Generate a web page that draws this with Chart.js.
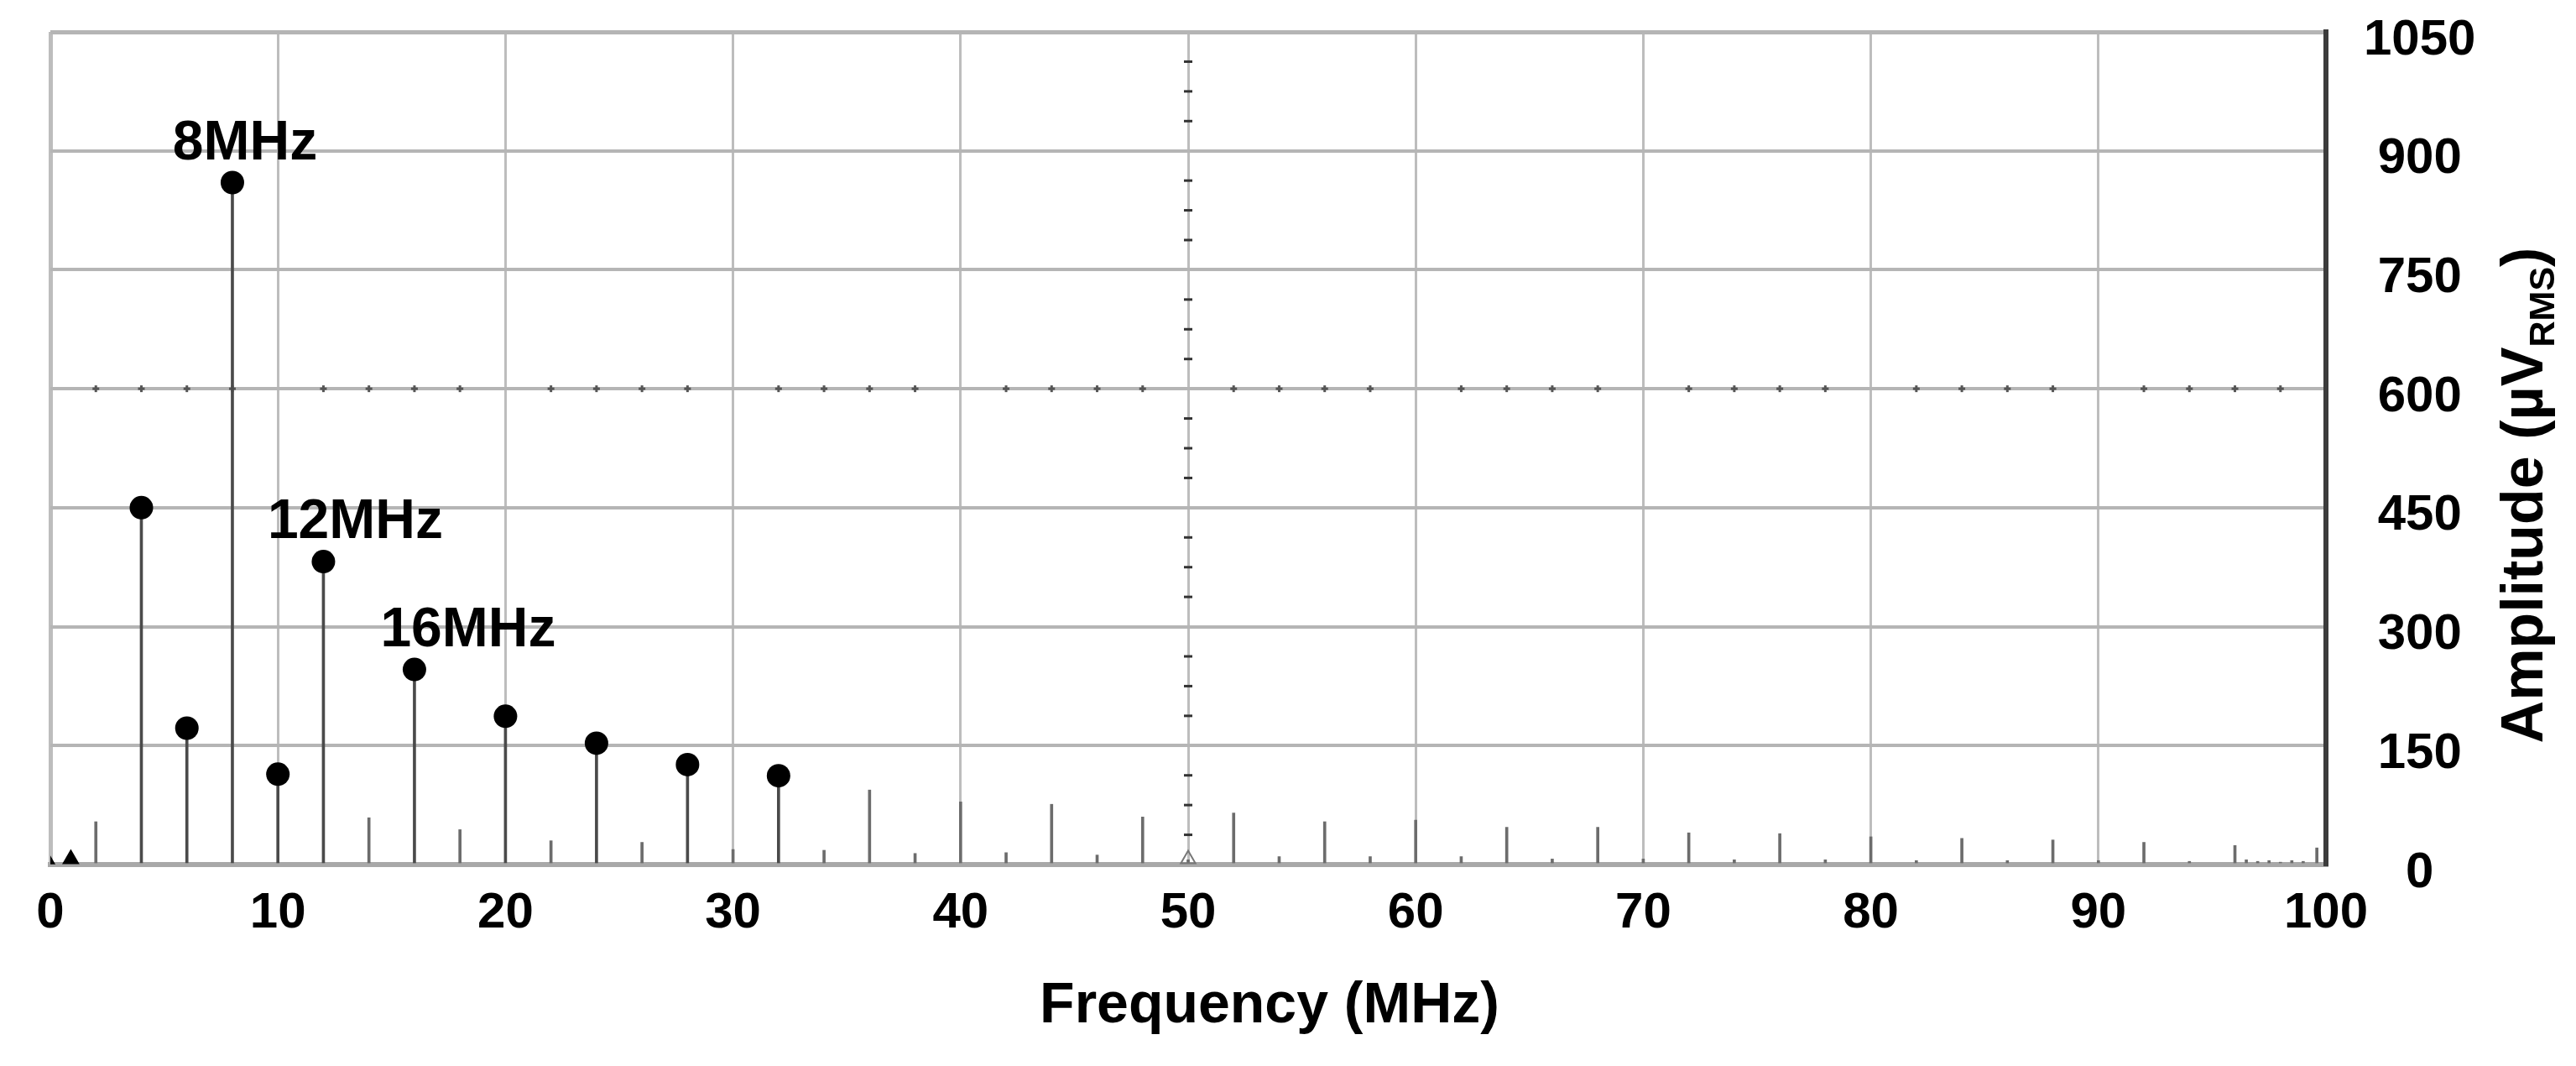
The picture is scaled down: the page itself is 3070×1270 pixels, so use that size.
<!DOCTYPE html>
<html>
<head>
<meta charset="utf-8">
<title>Amplitude spectrum</title>
<script src="https://cdn.jsdelivr.net/npm/chart.js@4.4.0/dist/chart.umd.min.js"></script>
<style>
  html, body { margin: 0; padding: 0; background: #fff; }
  #spectrum { display: block; }
</style>
</head>
<body>
<canvas id="spectrum" width="3070" height="1270"></canvas>
<script>
// --- Data ---
const freqMHz = [2, 4, 6, 8, 10, 12, 14, 16, 18, 20, 22, 24, 26, 28, 30, 32, 34, 36, 38, 40,
    42, 44, 46, 48, 50, 52, 54, 56, 58, 60, 62, 64, 66, 68, 70, 72, 74, 76, 78, 80,
    82, 84, 86, 88, 90, 92, 94, 96, 96.5, 97, 97.5, 98, 98.5, 99, 99.6];
const amplitude = [54, 450, 172, 860, 114, 382, 59, 246, 44, 187, 30, 153, 28, 126, 19, 112, 18, 94, 14, 79,
    15, 76, 12, 60, 6, 65, 10, 54, 10, 56, 10, 47, 7, 47, 7, 40, 6, 39, 6, 35,
    5, 33, 5, 31, 5, 28, 4, 24, 6, 4, 5, 3, 5, 4, 21];
const markerFreqs = [4, 6, 8, 10, 12, 16, 20, 24, 28, 32];
const triangleFreqs = [0, 0.9, 50];
const triangleAmps = [4, 7, 7];
const peakLabels = ['8MHz', '12MHz', '16MHz'];
const peakFreqs = [8, 12, 16];
const xTicks = { min: 0, max: 100, step: 10 };
const yTicks = { min: 0, max: 1050, step: 150 };

const FONT = "'Liberation Sans', Arial, sans-serif";
Chart.defaults.font.family = FONT;
Chart.defaults.color = '#000';

const ampAt = f => amplitude[freqMHz.indexOf(f)];

// --- Scope-style centre crosshair, peak labels and axis titles ---
const decorations = {
    id: 'decorations',
    beforeDatasetsDraw(chart) {
        const { ctx, scales: { x, y } } = chart;
        ctx.save();
        // small dashes along the 50 MHz centre line
        ctx.fillStyle = '#333';
        const cx = x.getPixelForValue(50);
        for (let v = 37.5; v < yTicks.max; v += 37.5) {
            if (v % 150 === 0) continue;
            ctx.fillRect(cx - 5, y.getPixelForValue(v) - 1.5, 10, 3);
        }
        // small crosses along the 600 centre line
        ctx.fillStyle = '#555';
        const cy = y.getPixelForValue(600);
        for (let f = 2; f < xTicks.max; f += 2) {
            if (f % 10 === 0) continue;
            const px = x.getPixelForValue(f);
            ctx.fillRect(px - 4, cy - 1.5, 8, 3);
            ctx.fillRect(px - 1.5, cy - 4, 3, 8);
        }
        ctx.restore();
    },
    afterDraw(chart) {
        const { ctx, chartArea, scales: { x, y } } = chart;
        ctx.save();
        ctx.fillStyle = '#000';

        // peak annotations
        const dx = [15, 38, 64];
        ctx.font = `bold 66px ${FONT}`;
        ctx.textAlign = 'center';
        ctx.textBaseline = 'alphabetic';
        peakLabels.forEach((txt, i) => {
            const f = peakFreqs[i];
            ctx.fillText(txt, x.getPixelForValue(f) + dx[i], y.getPixelForValue(ampAt(f)) - 28);
        });

        // x axis title
        ctx.font = `bold 68px ${FONT}`;
        ctx.fillText('Frequency (MHz)', (chartArea.left + chartArea.right) / 2 + 97, 1218);

        // y axis title with subscript, rotated
        ctx.translate(3030, 590);
        ctx.rotate(-Math.PI / 2);
        ctx.textAlign = 'left';
        const big = `bold 70px ${FONT}`, small = `bold 43px ${FONT}`;
        ctx.font = big;
        const w1 = ctx.measureText('Amplitude (µV').width;
        const w3 = ctx.measureText(')').width;
        ctx.font = small;
        const w2 = ctx.measureText('RMS').width;
        const start = -(w1 + w2 + w3) / 2;
        ctx.font = big;
        ctx.fillText('Amplitude (µV', start, 0);
        ctx.font = small;
        ctx.fillText('RMS', start + w1, 14);
        ctx.font = big;
        ctx.fillText(')', start + w1 + w2, 0);
        ctx.restore();
    }
};

new Chart(document.getElementById('spectrum'), {
    type: 'bar',
    data: {
        datasets: [
            {
                type: 'scatter',
                data: markerFreqs.map(f => ({ x: f, y: ampAt(f) })),
                pointRadius: 14,
                pointBackgroundColor: '#000',
                pointBorderWidth: 0,
                order: 0
            },
            {
                type: 'scatter',
                data: triangleFreqs.map((f, i) => ({ x: f, y: triangleAmps[i] })),
                pointStyle: 'triangle',
                pointRadius: [5, 10, 10],
                pointBackgroundColor: ['#000', '#000', 'rgba(0,0,0,0)'],
                pointBorderColor: ['#000', '#000', '#777'],
                pointBorderWidth: 2,
                order: 1
            },
            {
                type: 'bar',
                data: freqMHz.map((f, i) => ({ x: f, y: amplitude[i] })),
                barThickness: 3,
                backgroundColor: freqMHz.map(f => markerFreqs.includes(f) ? '#4a4a4a' : '#6c6c6c'),
                borderWidth: 0,
                order: 2
            }
        ]
    },
    options: {
        responsive: false,
        animation: false,
        layout: { padding: { left: 60, top: 38, right: 0, bottom: 0 } },
        plugins: { legend: { display: false }, tooltip: { enabled: false } },
        scales: {
            x: {
                type: 'linear',
                min: xTicks.min,
                max: xTicks.max,
                offset: false,
                afterFit: s => {
                    s.height = 1270 - 1030;
                    s.paddingLeft = 0;
                    s.paddingRight = 0;
                },
                ticks: {
                    stepSize: xTicks.step,
                    padding: 22,
                    maxRotation: 0,
                    font: { size: 60, weight: 'bold' }
                },
                grid: {
                    offset: false,
                    color: '#bdbdbd',
                    lineWidth: c => c.tick && c.tick.value === 0 ? 5 : 3,
                    drawTicks: false
                },
                border: { display: true, color: '#a8a8a8', width: 6 }
            },
            y: {
                position: 'right',
                min: yTicks.min,
                max: yTicks.max,
                afterFit: s => {
                    s.width = 3070 - 2772;
                    s.paddingTop = 0;
                    s.paddingBottom = 0;
                },
                ticks: {
                    stepSize: yTicks.step,
                    padding: 45,
                    labelOffset: 10,
                    crossAlign: 'center',
                    callback: v => String(v),
                    font: { size: 60, weight: 'bold' }
                },
                grid: {
                    color: '#b5b5b5',
                    lineWidth: c => c.tick && c.tick.value === yTicks.max ? 5 : 4,
                    drawTicks: false
                },
                border: { display: true, color: '#3c3c3c', width: 6 }
            }
        }
    },
    plugins: [decorations]
});
</script>
</body>
</html>
